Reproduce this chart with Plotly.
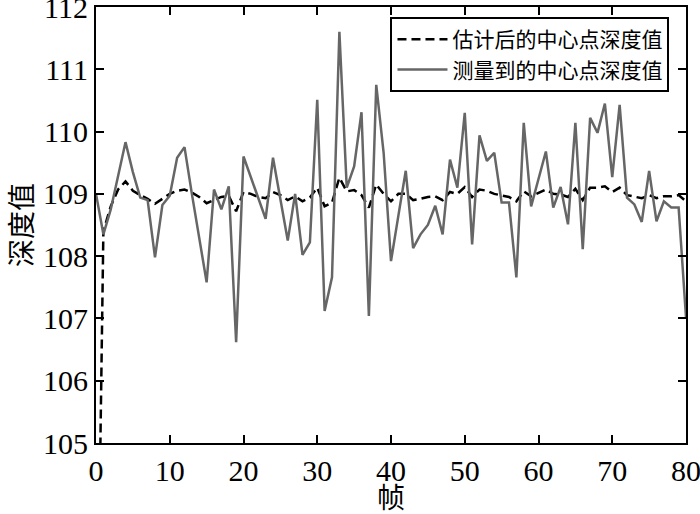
import plotly.graph_objects as go

frames = list(range(81))

estimated = [100.0, 108.4, 108.8, 109.07, 109.2, 109.05, 108.98, 108.92, 108.84, 108.92,
             109.0, 109.05, 109.07, 109.02, 108.95, 108.85, 108.9, 108.95, 108.97, 108.72,
             109.03, 109.0, 108.95, 108.93, 109.03, 108.98, 108.9, 108.96, 108.88, 108.94,
             109.1, 108.8, 108.86, 109.26, 109.04, 109.06, 108.98, 108.78, 109.15, 109.0,
             108.88, 109.0, 109.0, 108.9, 108.92, 108.95, 108.96, 108.9, 109.03, 109.0,
             109.11, 108.95, 109.07, 109.05, 109.0, 108.97, 108.95, 108.88, 109.04, 108.96,
             109.02, 109.07, 109.0, 108.99, 108.95, 109.08, 108.9, 109.1, 109.1, 109.12,
             109.03, 109.1, 108.98, 108.95, 108.93, 108.98, 108.93, 108.96, 108.96, 108.98,
             108.88]

measured = [109.0, 108.35, 108.75, 109.3, 109.83, 109.35, 108.94, 108.9, 107.98, 108.82,
            108.97, 109.58, 109.75, 109.0, 108.3, 107.58, 109.07, 108.75, 109.12, 106.62,
            109.6, 109.27, 108.93, 108.6, 109.58, 108.9, 108.25, 109.0, 108.02, 108.22,
            110.51, 107.12, 107.66, 111.6, 109.1, 109.44, 110.31, 107.04, 110.75, 109.66,
            107.92, 108.65, 109.37, 108.13, 108.35, 108.5, 108.81, 108.35, 109.55, 109.1,
            110.3, 108.19, 109.94, 109.53, 109.66, 108.86, 108.86, 107.66, 110.14, 108.8,
            109.25, 109.68, 108.78, 109.11, 108.51, 110.14, 108.11, 110.22, 109.98, 110.45,
            109.27, 110.43, 108.94, 108.83, 108.55, 109.37, 108.56, 108.88, 108.78, 108.78,
            107.02]

names = ["估计后的中心点深度值", "测量到的中心点深度值"]
x_title = "帧"
y_title = "深度值"

FONT = "Liberation Serif, Noto Sans CJK SC, serif"

fig = go.Figure()
fig.add_trace(go.Scatter(
    x=frames, y=estimated, mode="lines", name=names[0],
    line=dict(color="black", width=2.5, dash="9px,5px"),
))
fig.add_trace(go.Scatter(
    x=frames, y=measured, mode="lines", name=names[1],
    line=dict(color="#666666", width=2.5),
))

axis_common = dict(
    showline=True, linecolor="black", linewidth=2, mirror="ticks",
    ticks="inside", ticklen=8, tickwidth=2, tickcolor="black",
    showgrid=False, zeroline=False, automargin=False,
    ticklabeloverflow="allow",
    tickfont=dict(family=FONT, size=30, color="black"),
)

fig.update_layout(
    width=700, height=514,
    margin=dict(l=96, r=14, t=7, b=71),
    paper_bgcolor="white", plot_bgcolor="white",
    font=dict(family=FONT, color="black"),
    showlegend=True,
    legend=dict(
        x=0.972, xanchor="right", y=0.977, yanchor="top",
        bgcolor="white", bordercolor="black", borderwidth=2,
        font=dict(family=FONT, size=21, color="black"),
        tracegroupgap=0, itemwidth=50,
    ),
    xaxis=dict(range=[0, 80], dtick=10, tick0=0,
               title=dict(text=x_title, font=dict(family=FONT, size=28), standoff=6),
               **axis_common),
    yaxis=dict(range=[105, 112], dtick=1, tick0=105,
               title=dict(text=y_title, font=dict(family=FONT, size=28), standoff=2),
               **axis_common),
)

fig.write_html("out.html", config={"displayModeBar": False},
               post_script="document.body.style.margin='0';")
